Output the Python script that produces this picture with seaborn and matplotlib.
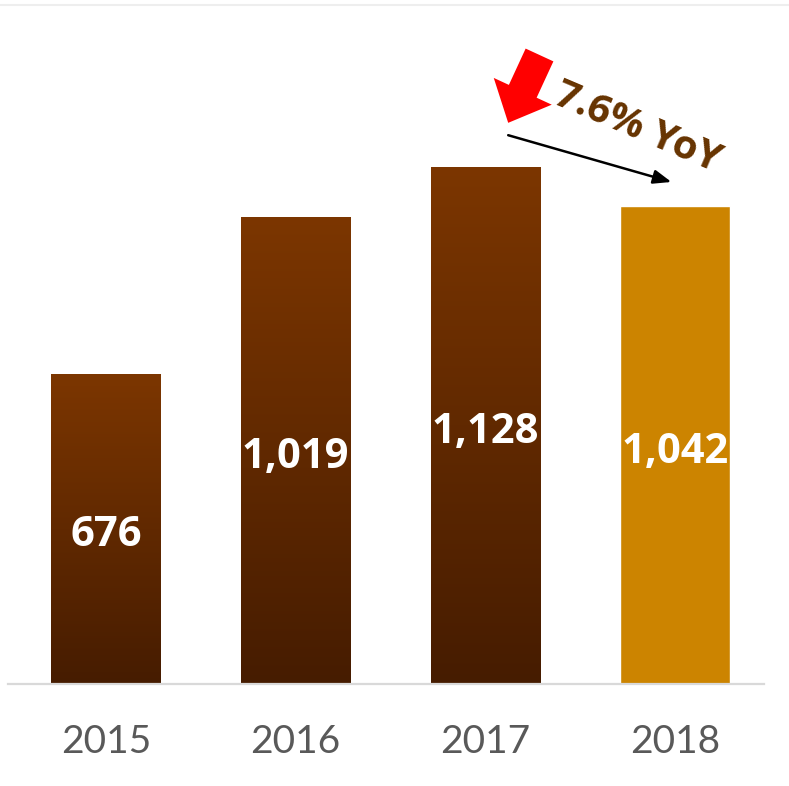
import numpy as np
import pandas as pd
import matplotlib
matplotlib.use("Agg")
import matplotlib.pyplot as plt
import matplotlib.colors as mcolors
import seaborn as sns

# Revenue by year
years = ["2015", "2016", "2017", "2018"]
values = [676, 1019, 1128, 1042]
yoy_label = "7.6% YoY"

brown_top = "#7C3600"
brown_bottom = "#461C00"
gold = "#CC8400"

sns.set_theme(style="white")
plt.rcParams["font.family"] = ["Open Sans", "DejaVu Sans"]

df = pd.DataFrame({"year": years, "value": values})

fig = plt.figure(figsize=(7.89, 7.86), dpi=100)
ax = fig.add_axes([8 / 789, 1 - 684 / 786, 756 / 789, 679 / 786])

palette = [brown_top, brown_top, brown_top, gold]
sns.barplot(data=df, x="year", y="value", hue="year", palette=palette,
            width=0.577, legend=False, ax=ax, saturation=1)

# vertical gradient fill on the first three bars
cmap = mcolors.LinearSegmentedColormap.from_list("brown", [brown_bottom, brown_top])
grad = np.linspace(0, 1, 256).reshape(-1, 1)
for i, patch in enumerate(ax.patches[:3]):
    x0, y0 = patch.get_x(), patch.get_y()
    w, h = patch.get_width(), patch.get_height()
    im = ax.imshow(grad, cmap=cmap, aspect="auto", origin="lower",
                   extent=[x0, x0 + w, y0, y0 + h], zorder=patch.get_zorder() + 0.1)
    im.set_clip_path(patch)
ax.set_xlim(-0.516, 3.468)
ax.set_ylim(0, 1481)

# value labels inside bars
for i, v in enumerate(values):
    ax.annotate(f"{v:,}", xy=(i, v / 2), xytext=(0, -5), textcoords="offset points",
                ha="center", va="center", color="white",
                fontsize=30, fontweight="bold", zorder=5)

# axes styling
for s in ["top", "right", "left"]:
    ax.spines[s].set_visible(False)
ax.spines["bottom"].set_color("#D9D9D9")
ax.spines["bottom"].set_linewidth(1.6)
ax.set_yticks([])
ax.set_xlabel("")
ax.set_ylabel("")
ax.tick_params(axis="x", length=0, pad=29, labelsize=28, labelcolor="#595959")
for lbl in ax.get_xticklabels():
    lbl.set_family(["Lato", "DejaVu Sans"])

# year-over-year change annotation
ax.annotate("", xy=(2.98, 1095), xytext=(2.12, 1197),
            arrowprops=dict(arrowstyle="-|>,head_length=0.9,head_width=0.35",
                            color="black", lw=1.8, shrinkA=0, shrinkB=0))
ax.annotate("", xy=(2.12, 1224), xytext=(2.285, 1372),
            arrowprops=dict(arrowstyle="simple,head_length=2.5,head_width=4.6,tail_width=2.2",
                            color="#FF0000", shrinkA=0, shrinkB=0, mutation_scale=10, lw=0))
ax.text(2.80, 1212, yoy_label, rotation=-23, ha="center", va="center",
        color="#663300", fontsize=29, fontweight="bold", rotation_mode="anchor")

# faint frame line at the top
fig.add_artist(plt.Line2D([0, 1], [1 - 5 / 786, 1 - 5 / 786], color="#EEEEEE", lw=1.5))

fig.savefig("out.png", dpi=100)
